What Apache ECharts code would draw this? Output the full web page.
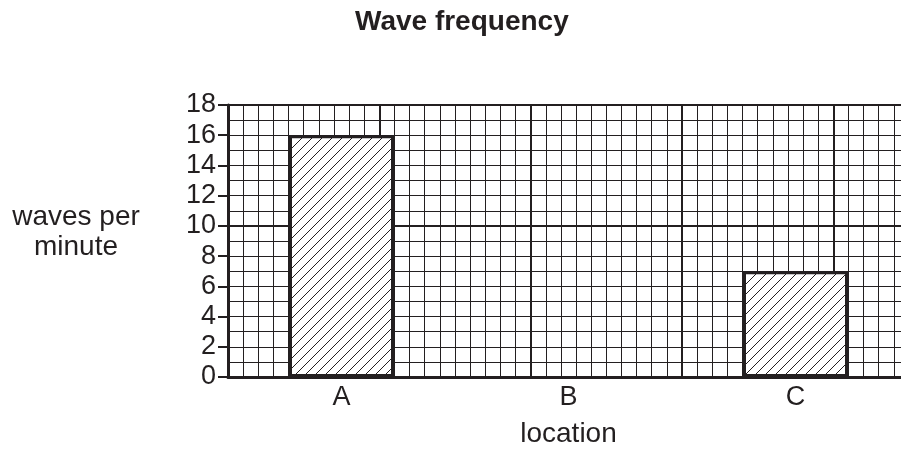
<!DOCTYPE html>
<html>
<head>
<meta charset="utf-8">
<script src="https://cdn.jsdelivr.net/npm/echarts@6/dist/echarts.min.js"></script>
<style>
  html, body { margin: 0; padding: 0; background: #fff; }
  #main { width: 901px; height: 452px; }
</style>
</head>
<body>
<div id="main"></div>
<script>
var categories = ['A', 'B', 'C'];
var waves = [16, 0, 7];
var yTicks = { min: 0, max: 18, step: 2 };
var cellsPerCategory = 15;

var ink = '#231f20';
var font = '"Liberation Sans", Arial, Helvetica, sans-serif';

// diagonal hatching for the bars
function hatch() {
    var c = document.createElement('canvas');
    c.width = 10; c.height = 10;
    var g = c.getContext('2d');
    g.fillStyle = '#fff';
    g.fillRect(0, 0, 10, 10);
    g.strokeStyle = ink;
    g.lineWidth = 1;
    g.beginPath();
    g.moveTo(-1, 11); g.lineTo(11, -1);
    g.moveTo(-6, 6); g.lineTo(6, -6);
    g.moveTo(4, 16); g.lineTo(16, 4);
    g.stroke();
    return c;
}

var gridX = categories.length * cellsPerCategory;

// a zero bar leaves no outline on the paper
var barData = waves.map(function (v) {
    return v === 0 ? { value: v, itemStyle: { borderWidth: 0 } } : v;
});

var myChart = echarts.init(document.getElementById('main'), null, { renderer: 'canvas' });
var option = {
    animation: false,
    backgroundColor: '#fff',
    title: {
        text: 'Wave frequency',
        left: 355,
        top: 8,
        padding: 0,
        textStyle: { fontFamily: font, fontSize: 28, fontWeight: 'bold', color: ink }
    },
    // the paper runs past the right edge of the picture
    grid: {
        left: 228, top: 105, width: 681, height: 272,
        containLabel: false,
        outerBoundsMode: 'none'
    },
    graphic: [{
        type: 'text',
        x: 76,
        y: 232,
        style: {
            text: 'waves per\nminute',
            fontFamily: font,
            fontSize: 28,
            lineHeight: 30,
            fill: ink,
            align: 'center',
            verticalAlign: 'middle'
        }
    }],
    xAxis: [
        {
            type: 'category',
            data: categories,
            boundaryGap: true,
            name: 'location',
            nameLocation: 'middle',
            nameGap: 43,
            nameTextStyle: { fontFamily: font, fontSize: 28, color: ink },
            axisLine: { lineStyle: { color: ink, width: 3 } },
            axisTick: { length: 10, lineStyle: { color: ink, width: 2 } },
            axisLabel: { margin: 7, fontFamily: font, fontSize: 27, color: ink },
            splitLine: { show: false },
            z: 5
        },
        {
            type: 'value', min: 0, max: gridX, interval: 1,
            axisLine: { show: false }, axisTick: { show: false }, axisLabel: { show: false },
            splitLine: { show: true, lineStyle: { color: ink, width: 1 } }
        },
        {
            type: 'value', min: 0, max: gridX, interval: 10,
            axisLine: { show: false }, axisTick: { show: false }, axisLabel: { show: false },
            splitLine: { show: true, lineStyle: { color: ink, width: 2 } }
        }
    ],
    yAxis: [
        {
            type: 'value',
            min: yTicks.min, max: yTicks.max, interval: yTicks.step,
            axisLine: { show: true, lineStyle: { color: ink, width: 3 } },
            axisTick: { show: true, length: 10, lineStyle: { color: ink, width: 2 } },
            axisLabel: { margin: 12, fontFamily: font, fontSize: 27, color: ink },
            splitLine: { show: false },
            z: 5
        },
        {
            type: 'value', min: yTicks.min, max: yTicks.max, interval: 1,
            axisLine: { show: false }, axisTick: { show: false }, axisLabel: { show: false },
            splitLine: { show: true, lineStyle: { color: ink, width: 1 } }
        },
        {
            type: 'value', min: yTicks.min, max: yTicks.max, interval: 10,
            axisLine: { show: false }, axisTick: { show: false }, axisLabel: { show: false },
            splitLine: { show: true, lineStyle: { color: ink, width: 2 } }
        }
    ],
    series: [{
        type: 'bar',
        xAxisIndex: 0,
        yAxisIndex: 0,
        data: barData,
        barWidth: 105,
        itemStyle: {
            color: { image: hatch(), repeat: 'repeat' },
            borderColor: ink,
            borderWidth: 3
        },
        z: 3
    }]
};
myChart.setOption(option);
</script>
</body>
</html>
